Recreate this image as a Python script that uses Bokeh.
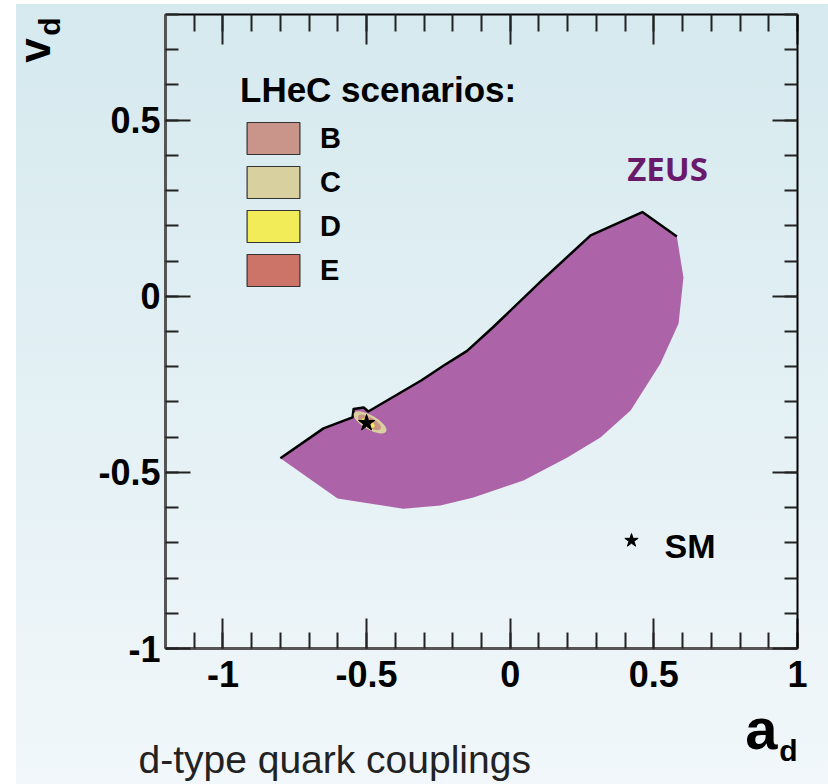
import numpy as np
from bokeh.plotting import figure
from bokeh.models import (Range1d, LinearAxis, SingleIntervalTicker, CustomJSTickFormatter,
                          Label, Legend, LegendItem)
from bokeh.embed import file_html
from bokeh.resources import INLINE

# ---------------- data ----------------
# ZEUS allowed region: upper (outlined) boundary, left -> right
zeus_upper_a = [-0.80, -0.65, -0.549, -0.545, -0.51, -0.494, -0.31, -0.23, -0.15, -0.06, 0.11, 0.28, 0.46, 0.58]
zeus_upper_v = [-0.46, -0.375, -0.344, -0.320, -0.316, -0.327, -0.239, -0.196, -0.155, -0.088, 0.045, 0.173, 0.239, 0.170]
# lower / right boundary, right -> left
zeus_lower_a = [0.603, 0.586, 0.523, 0.419, 0.314, 0.199, 0.046, -0.128, -0.243, -0.372, -0.601]
zeus_lower_v = [0.053, -0.077, -0.191, -0.324, -0.401, -0.458, -0.523, -0.571, -0.594, -0.603, -0.574]

# Standard Model point
sm_a = [-0.50]
sm_v = [-0.36]

# LHeC scenarios (legend order)
scenario_labels = ["B", "C", "D", "E"]
scenario_colors = ["#c9948a", "#d9d0a0", "#f2ec58", "#cc7468"]
# scenario contours around the SM point, drawn largest first
ellipse_labels = ["C", "B", "D", "E"]
ellipse_a = [-0.488, -0.49, -0.495, -0.497]
ellipse_v = [-0.358, -0.358, -0.36, -0.36]

# axis extents
x_lo, x_hi = -1.2, 1.0
y_lo, y_hi = -1.0, 0.8

FONT = "Liberation Sans"
W, H = 828, 784
# pixel box of the axes frame inside the page
BOX_L, BOX_R, BOX_T, BOX_B = 165, 797, 14, 648
sx = (BOX_R - BOX_L) / (x_hi - x_lo)
sy = (BOX_B - BOX_T) / (y_hi - y_lo)
xr = Range1d(x_lo - BOX_L / sx, x_hi + (W - BOX_R) / sx)
yr = Range1d(y_lo - (H - BOX_B) / sy, y_hi + BOX_T / sy)

p = figure(width=W, height=H, x_range=xr, y_range=yr,
           output_backend="svg", toolbar_location=None,
           x_axis_location=None, y_axis_location=None,
           min_border=0)
p.title.visible = False
p.border_fill_color = None
p.background_fill_color = None
p.outline_line_color = None
p.grid.visible = False

ticker = SingleIntervalTicker(interval=0.5, num_minor_ticks=5)
fmt = CustomJSTickFormatter(code="return String(Math.round(tick*10)/10)")
blank = CustomJSTickFormatter(code="return ''")


def make_axis(loc, bounds, major_in, minor_in, line_color, line_width, labels=True):
    ax = LinearAxis(fixed_location=loc, bounds=bounds, ticker=ticker)
    ax.major_tick_in = major_in
    ax.major_tick_out = 0
    ax.minor_tick_in = minor_in
    ax.minor_tick_out = 0
    ax.axis_line_color = line_color
    ax.axis_line_width = line_width
    ax.major_tick_line_color = "#222222"
    ax.major_tick_line_width = 2
    ax.minor_tick_line_color = "#222222"
    ax.minor_tick_line_width = 2
    if labels:
        ax.formatter = fmt
        ax.major_label_text_font = FONT
        ax.major_label_text_font_style = "bold"
        ax.major_label_text_font_size = "36px"
        ax.major_label_text_color = "black"
    else:
        ax.formatter = blank
        ax.major_label_text_font_size = "0px"
        ax.major_label_standoff = 0
    return ax


bottom_ax = make_axis(y_lo, (x_lo, x_hi), 30, 16, "#555555", 3)
bottom_ax.major_label_standoff = 12
p.add_layout(bottom_ax, "below")
left_ax = make_axis(x_lo, (y_lo, y_hi), 25, 13, "#555555", 3)
left_ax.major_label_standoff = 5
p.add_layout(left_ax, "left")
top_ax = make_axis(y_hi, (x_lo, x_hi), 30, 17, "black", 2, labels=False)
p.add_layout(top_ax, "above")
right_ax = make_axis(x_hi, (y_lo, y_hi), 25, 13, "black", 2, labels=False)
p.add_layout(right_ax, "right")

# ZEUS region
p.patch(zeus_upper_a + zeus_lower_a, zeus_upper_v + zeus_lower_v,
        fill_color="#ad63a8", line_color=None)
p.line(zeus_upper_a, zeus_upper_v, line_color="black", line_width=2.5, line_join="round")

# LHeC scenario contours
ell_w = {"C": 37, "B": 26, "D": 15, "E": 8}
ell_h = {"C": 14, "B": 10, "D": 7, "E": 4}
color_of = dict(zip(scenario_labels, scenario_colors))
for lab, ea, ev in zip(ellipse_labels, ellipse_a, ellipse_v):
    p.ellipse(x=[ea], y=[ev], width=ell_w[lab], height=ell_h[lab],
              width_units="screen", height_units="screen", angle=-0.52,
              fill_color=color_of[lab], line_color=None)

p.scatter(sm_a, sm_v, marker="star", size=17, fill_color="black", line_color="black")

# legend with scenario swatches (renderers carry no visible mark)
items = []
for lab, col in zip(scenario_labels, scenario_colors):
    r = p.quad(left=[np.nan], right=[np.nan], top=[np.nan], bottom=[np.nan],
               fill_color=col, line_color="#333333", line_width=1.2)
    items.append(LegendItem(label=lab, renderers=[r]))
legend_top = 71
legend_h = 219
legend = Legend(items=items, title="LHeC scenarios:",
                location=(240, H - (legend_top + legend_h)),
                glyph_width=66, glyph_height=40, label_height=40,
                spacing=4, label_standoff=14, padding=0, margin=0,
                title_standoff=8,
                border_line_color=None, background_fill_alpha=0,
                label_text_font=FONT, label_text_font_style="bold",
                label_text_font_size="29px", label_text_color="black",
                title_text_font=FONT, title_text_font_style="bold",
                title_text_font_size="35px", title_text_color="black")
p.add_layout(legend)


def px_to_data(px, py):
    return x_lo + (px - BOX_L) / sx, y_hi - (py - BOX_T) / sy


# SM key
kx, ky = px_to_data(631, 540)
p.scatter([kx], [ky], marker="star", size=14, fill_color="black", line_color="black")
tx, ty = px_to_data(664, 545)
p.add_layout(Label(x=tx, y=ty, text="SM", text_font=FONT, text_font_style="bold",
                   text_font_size="34px", text_baseline="middle", text_align="left",
                   text_color="black"))

# ZEUS label
tx, ty = px_to_data(667, 168)
p.add_layout(Label(x=tx, y=ty, text="ZEUS", text_font="Open Sans", text_font_style="bold",
                   text_font_size="33px", text_baseline="middle", text_align="center",
                   text_color="#6a1a6a"))

# axis titles
tx, ty = px_to_data(34, 50)
p.add_layout(Label(x=tx, y=ty, text="v", text_font=FONT, text_font_style="bold",
                   text_font_size="44px", angle=np.pi / 2, text_align="center",
                   text_baseline="middle", text_color="black"))
tx, ty = px_to_data(49, 26)
p.add_layout(Label(x=tx, y=ty, text="d", text_font=FONT, text_font_style="bold",
                   text_font_size="30px", angle=np.pi / 2, text_align="center",
                   text_baseline="middle", text_color="black"))
tx, ty = px_to_data(761, 728)
p.add_layout(Label(x=tx, y=ty, text="a", text_font=FONT, text_font_style="bold",
                   text_font_size="58px", text_align="center",
                   text_baseline="middle", text_color="black"))
tx, ty = px_to_data(788, 750)
p.add_layout(Label(x=tx, y=ty, text="d", text_font=FONT, text_font_style="bold",
                   text_font_size="30px", text_align="center",
                   text_baseline="middle", text_color="black"))

tx, ty = px_to_data(138, 759)
p.add_layout(Label(x=tx, y=ty, text="d-type quark couplings", text_font=FONT,
                   text_font_size="39px", text_align="left",
                   text_baseline="middle", text_color="#222222"))

html = file_html(p, INLINE, title="d-type quark couplings")
bg = ("linear-gradient(to right, #ffffff 0px, #ffffff 16px, rgba(255,255,255,0) 16px), "
      "linear-gradient(to bottom, #ffffff 0px, #ffffff 4px, rgba(255,255,255,0) 4px), "
      "linear-gradient(to bottom, #d5e9ee 0%, #f1f7fa 100%)")
style = ("<style>html,body{margin:0;padding:0;height:100%;}"
         "body{background:" + bg + ";background-repeat:no-repeat;}</style>")
html = html.replace("</head>", style + "</head>", 1)
open("out.html", "w").write(html)
